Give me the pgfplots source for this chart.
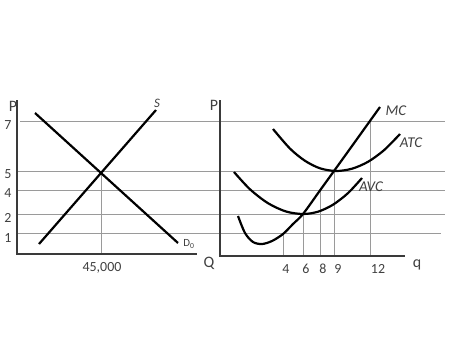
\documentclass[border=0pt]{standalone}
\usepackage{pgfplots}
\pgfplotsset{compat=1.18}
\usepackage{fontspec}
\setmainfont{Carlito}
\definecolor{gridg}{HTML}{9A9A9A}
\definecolor{axg}{HTML}{3A3A3A}
\definecolor{txt}{HTML}{404040}
\tikzset{lbl/.style={font=\fontsize{14}{16}\selectfont, text=txt, inner sep=0pt}}
\begin{document}
\begin{tikzpicture}
\begin{axis}[
  width=470bp, height=352bp, scale only axis,
  xmin=0, xmax=470, ymin=0, ymax=352, y dir=reverse,
  hide axis, clip=false,
]
\addplot[draw=none] coordinates {(0,0) (470,352)};
% horizontal price lines across both panels
\addplot[gridg, line width=0.9bp] coordinates {(20,121) (445,121)};
\addplot[gridg, line width=0.9bp] coordinates {(17,171) (445,171)};
\addplot[gridg, line width=0.9bp] coordinates {(17,190) (445,190)};
\addplot[gridg, line width=0.9bp] coordinates {(17,214) (445,214)};
\addplot[gridg, line width=0.9bp] coordinates {(17,233) (441,233)};
% drop lines
\addplot[gridg, line width=0.9bp] coordinates {(101,171) (101,254)};
\addplot[gridg, line width=0.9bp] coordinates {(283,234) (283,256)};
\addplot[gridg, line width=0.9bp] coordinates {(303,214) (303,256)};
\addplot[gridg, line width=0.9bp] coordinates {(320,190) (320,256)};
\addplot[gridg, line width=0.9bp] coordinates {(334,171) (334,256)};
\addplot[gridg, line width=0.9bp] coordinates {(370,121) (370,256)};
% axes
\addplot[axg, line width=1.5bp] coordinates {(17,100) (17,254) (197,254)};
\addplot[axg, line width=1.5bp] coordinates {(220,100) (220,256) (405,256)};
% market: demand and supply
\addplot[black, line width=2.2bp] coordinates {(35,113) (178,243)};
\addplot[black, line width=2.2bp] coordinates {(39,244) (156,110)};
% firm: MC, ATC, AVC
\addplot[black, line width=2.2bp, smooth] coordinates {
  (238,216) (245,233) (253,242) (262,244) (272,241) (283,234) (293,224) (303,214) (320,190.4) (334,171) (352,146) (369,122.3) (380,107)};
\addplot[black, line width=2.2bp, smooth] coordinates {
  (273,129) (290,148.6) (305,160.8) (320,168.3) (336,171) (352,168.7) (368,161.8) (384,150.2) (400,134)};
\addplot[black, line width=2.2bp, smooth] coordinates {
  (234,172) (250,189.3) (268,203.2) (286,211.5) (303,214) (318,211.7) (333,204.7) (348,193.1) (362,178)};
% labels
\node[lbl, font=\fontsize{16}{18}\selectfont] at (13,106) {P};
\node[lbl] at (8,125) {7};
\node[lbl] at (8,174) {5};
\node[lbl] at (8,193) {4};
\node[lbl] at (8,218) {2};
\node[lbl] at (8,238) {1};
\node[lbl] at (102,268) {45,000};
\node[lbl, font=\fontsize{13}{15}\selectfont\itshape] at (157,103) {S};
\node[lbl, font=\fontsize{11}{12}\selectfont] at (189,244) {D\textsubscript{0}};
\node[lbl, font=\fontsize{16}{18}\selectfont] at (209,263) {Q};
\node[lbl, font=\fontsize{16}{18}\selectfont] at (214,105) {P};
\node[lbl] at (286,269) {4};
\node[lbl] at (306,269) {6};
\node[lbl] at (323,269) {8};
\node[lbl] at (338,269) {9};
\node[lbl] at (378,269) {12};
\node[lbl, font=\fontsize{16}{18}\selectfont] at (417,265) {q};
\node[lbl, font=\fontsize{15}{17}\selectfont\itshape] at (396,111) {MC};
\node[lbl, font=\fontsize{15}{17}\selectfont\itshape] at (411,143) {ATC};
\node[lbl, font=\fontsize{15}{17}\selectfont\itshape] at (371,187) {AVC};
\end{axis}
\end{tikzpicture}
\end{document}
